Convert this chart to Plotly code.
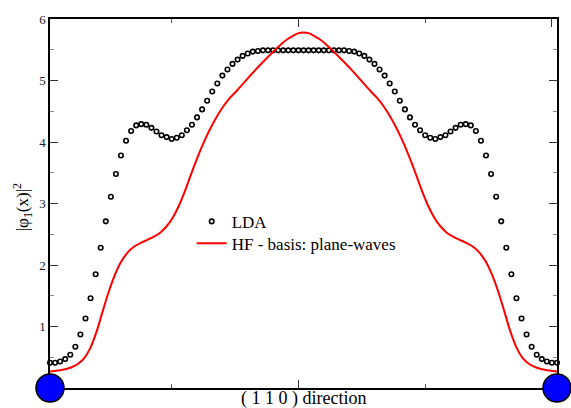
import plotly.graph_objects as go

# LDA density along the (1 1 0) direction, sampled on 101 grid points
lda_idx = list(range(101))
lda_val = [
    0.41, 0.41, 0.43, 0.47, 0.54, 0.67, 0.87, 1.13, 1.46, 1.85,
    2.28, 2.71, 3.11, 3.48, 3.78, 4.02, 4.18, 4.27, 4.29, 4.28,
    4.23, 4.17, 4.11, 4.08, 4.05, 4.07, 4.11, 4.19, 4.28, 4.40,
    4.53, 4.67, 4.82, 4.95, 5.08, 5.18, 5.27, 5.34, 5.40, 5.44,
    5.47, 5.48, 5.49, 5.49, 5.49, 5.49, 5.49, 5.49, 5.49, 5.49,
    5.49,
    5.49, 5.49, 5.49, 5.49, 5.49, 5.49, 5.49, 5.49, 5.48, 5.47,
    5.44, 5.40, 5.34, 5.27, 5.18, 5.08, 4.95, 4.82, 4.67, 4.53,
    4.40, 4.28, 4.19, 4.11, 4.07, 4.05, 4.08, 4.11, 4.17, 4.23,
    4.28, 4.29, 4.27, 4.18, 4.02, 3.78, 3.48, 3.11, 2.71, 2.28,
    1.85, 1.46, 1.13, 0.87, 0.67, 0.54, 0.47, 0.43, 0.41, 0.41,
]

# Hartree-Fock density with a plane-wave basis
hf_x = [
    0, 2, 4, 5.5, 6.8, 8.0, 9.2, 10.4, 11.6, 12.8, 14.0, 15.3, 16.6, 17.9,
    19.2, 20.5, 21.8, 23.0, 24.2, 25.4, 26.6, 27.8, 29.0, 30.2, 31.5,
    32.8, 34.1, 35.4, 36.8, 38.1, 39.4, 40.7, 42.0, 43.2, 44.4, 45.6, 46.8,
    48.0, 49.0, 50,
    51.0, 52.0, 53.2, 54.4, 55.6, 56.8, 58.0, 59.3, 60.6, 61.9, 63.2, 64.6,
    65.9, 67.2, 68.5, 69.8, 71.0, 72.2, 73.4, 74.6, 75.8, 77.0, 78.2, 79.5,
    80.8, 82.1, 83.4, 84.7, 86.0, 87.2, 88.4, 89.6, 90.8, 92.0, 93.2, 94.5,
    96.0, 98.0, 100,
]
hf_val = [
    0.27, 0.29, 0.33, 0.39, 0.49, 0.66, 0.92, 1.25, 1.57, 1.84, 2.05, 2.20,
    2.30, 2.36, 2.41, 2.46, 2.53, 2.63, 2.77, 2.96, 3.20, 3.47, 3.73, 3.97,
    4.20, 4.40, 4.57, 4.71, 4.83, 4.95, 5.07, 5.19, 5.30, 5.40, 5.50, 5.59,
    5.67, 5.73, 5.77, 5.78,
    5.77, 5.73, 5.67, 5.59, 5.50, 5.40, 5.30, 5.19, 5.07, 4.95, 4.83, 4.71,
    4.57, 4.40, 4.20, 3.97, 3.73, 3.47, 3.20, 2.96, 2.77, 2.63, 2.53, 2.46,
    2.41, 2.36, 2.30, 2.20, 2.05, 1.84, 1.57, 1.25, 0.92, 0.66, 0.49, 0.39,
    0.33, 0.29, 0.27,
]

# atom sites at both ends of the path
atom_x = [0, 100]
atom_y = [0, 0]

y_ticks = [1, 2, 3, 4, 5, 6]

SERIF = "Liberation Serif, Times New Roman, serif"
LEG_FONT = dict(family=SERIF, size=17, color="black")

fig = go.Figure()
fig.add_trace(go.Scatter(
    x=lda_idx, y=lda_val, mode="markers", name="LDA", legend="legend",
    marker=dict(symbol="circle-open", size=4.5, color="black",
                line=dict(color="black", width=1.6)),
    cliponaxis=False,
))
fig.add_trace(go.Scatter(
    x=hf_x, y=hf_val, mode="lines", name="HF - basis: plane-waves",
    legend="legend2",
    line=dict(color="#ff0000", width=2, shape="spline", smoothing=1.0),
))
fig.add_trace(go.Scatter(
    x=atom_x, y=atom_y, mode="markers", showlegend=False,
    marker=dict(size=28, color="#0000ff", line=dict(color="black", width=1.5)),
    cliponaxis=False,
))

fig.update_layout(
    width=571, height=408,
    margin=dict(l=50, r=13, t=12, b=20),
    paper_bgcolor="white", plot_bgcolor="white",
    font=dict(family=SERIF, color="black"),
    showlegend=True,
    legend=dict(
        x=0.2795, y=0.499, xanchor="left", yanchor="top",
        bgcolor="rgba(0,0,0,0)", borderwidth=0, font=LEG_FONT,
    ),
    legend2=dict(
        x=0.2795, y=0.440, xanchor="left", yanchor="top",
        bgcolor="rgba(0,0,0,0)", borderwidth=0, font=LEG_FONT,
    ),
    xaxis=dict(
        range=[0, 100], showgrid=False, zeroline=False,
        showline=True, linecolor="black", linewidth=1.5, mirror="ticks",
        ticks="inside", ticklen=8, tickcolor="#333", tickwidth=1,
        tickmode="linear", tick0=-1, dtick=50, showticklabels=False,
        minor=dict(ticks="inside", ticklen=4, tickcolor="#555",
                   tickmode="linear", tick0=-1, dtick=25),
        layer="below traces",
    ),
    yaxis=dict(
        range=[0, 6], showgrid=False, zeroline=False,
        showline=True, linecolor="black", linewidth=1.5, mirror="ticks",
        ticks="inside", ticklen=8, tickcolor="#333", tickwidth=1,
        tickmode="array", tickvals=y_ticks,
        tickfont=dict(family=SERIF, size=13, color="#222"),
        minor=dict(ticks="inside", ticklen=4, tickcolor="#888",
                   tickmode="linear", tick0=0, dtick=0.5),
        layer="below traces",
    ),
    annotations=[
        dict(text="( 1 1 0 ) direction", xref="paper", yref="paper",
             x=0.5, y=0, xanchor="center", yanchor="top", yshift=2,
             showarrow=False, font=dict(family=SERIF, size=18, color="black")),
        dict(text="|\u03c6<sub>1</sub>(x)|<sup>2</sup>", xref="paper", yref="paper",
             x=-0.055, y=0.49, xanchor="center", yanchor="middle",
             textangle=-90, showarrow=False,
             font=dict(family=SERIF, size=17, color="black")),
    ],
)

fig.write_html("out.html")
